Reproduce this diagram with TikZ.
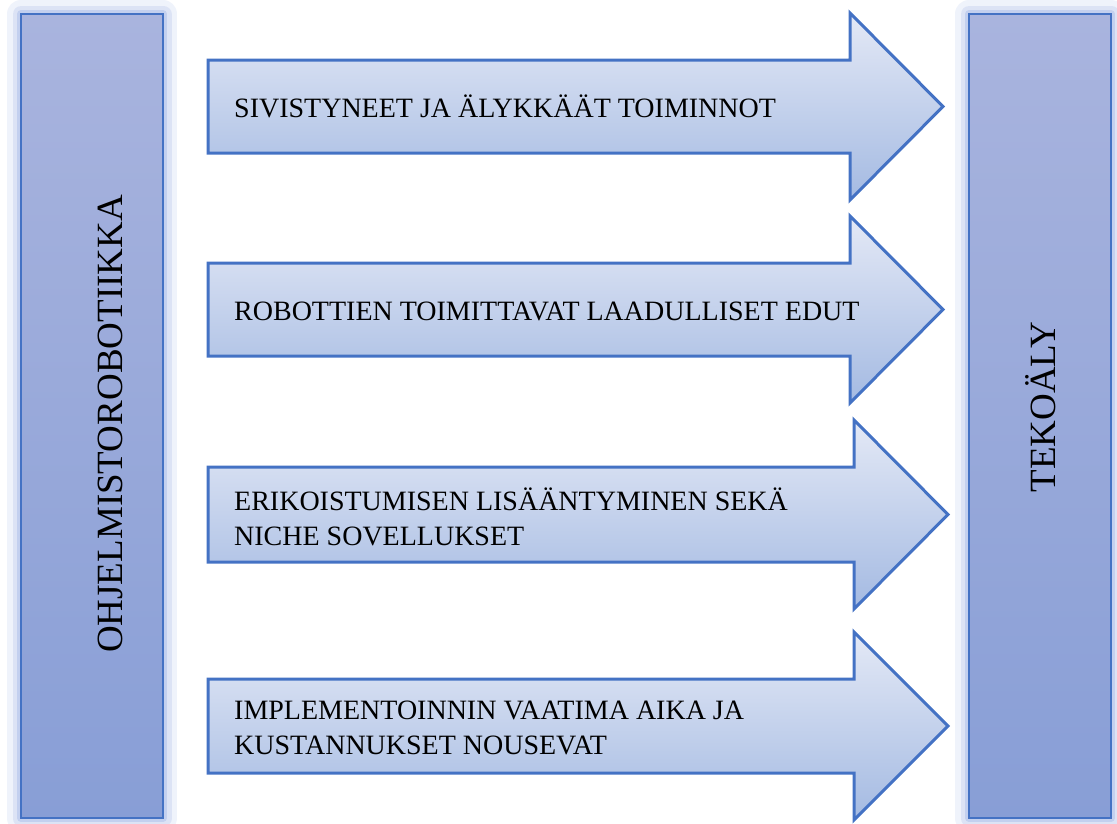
\documentclass[tikz,border=0pt]{standalone}
\usepackage{fontspec}
\setmainfont{Liberation Serif}
\usetikzlibrary{positioning}

\definecolor{edgeblue}{RGB}{68,114,196}
\definecolor{bartop}{RGB}{169,180,222}
\definecolor{barbot}{RGB}{136,158,214}
\definecolor{arrtop}{RGB}{228,233,246}
\definecolor{arrbot}{RGB}{164,186,226}
\definecolor{glowblue}{RGB}{150,172,226}

\begin{document}
\begin{tikzpicture}[x=1pt,y=-1pt,
  bar/.style={draw=edgeblue, line width=1.2pt, top color=bartop, bottom color=barbot,
    minimum width=142pt, minimum height=804pt, inner sep=0pt,
    preaction={draw=glowblue, line width=28pt, opacity=0.15, line join=round},
    preaction={draw=glowblue, line width=17pt, opacity=0.22, line join=round},
    preaction={draw=glowblue, line width=8pt, opacity=0.35, line join=round}},
  arrowbox/.style={draw=edgeblue, line width=3pt, line join=miter, top color=arrtop, bottom color=arrbot},
  lbl/.style={anchor=west, align=left, inner sep=0pt, font=\fontsize{28}{35}\selectfont},
  side/.style={rotate=90, inner sep=0pt, font=\fontsize{37}{44}\selectfont}]
  \useasboundingbox (0,0) rectangle (1117,823);

  % side bars
  \node[bar] (lbar) at (92,416) {};
  \node[bar] (rbar) at (1040,416) {};
  \node[side] (robo) at (110,424) {OHJELMISTOROBOTIIKKA};
  \node[side] (tekoaly) at (1041,407) {TEKOÄLY};

  % arrows
  \filldraw[arrowbox] (208,60) -- (850,60) -- (850,13) -- (943,106.5) -- (850,200) -- (850,153) -- (208,153) -- cycle;
  \filldraw[arrowbox] (208,263) -- (850,263) -- (850,216) -- (943,309.5) -- (850,403) -- (850,356) -- (208,356) -- cycle;
  \filldraw[arrowbox] (208,467) -- (854,467) -- (854,420) -- (948,514.5) -- (854,609) -- (854,562) -- (208,562) -- cycle;
  \filldraw[arrowbox] (208,679) -- (854,679) -- (854,632) -- (948,726) -- (854,820) -- (854,773) -- (208,773) -- cycle;

  \node[lbl] (a1) at (234,106.5) {SIVISTYNEET JA ÄLYKKÄÄT TOIMINNOT};
  \node[lbl] (a2) at (234,311) {ROBOTTIEN TOIMITTAVAT LAADULLISET EDUT};
  \node[lbl] (a3) at (234,517) {ERIKOISTUMISEN LISÄÄNTYMINEN SEKÄ\\NICHE SOVELLUKSET};
  \node[lbl] (a4) at (234,728) {IMPLEMENTOINNIN VAATIMA AIKA JA\\KUSTANNUKSET NOUSEVAT};
\end{tikzpicture}
\end{document}
